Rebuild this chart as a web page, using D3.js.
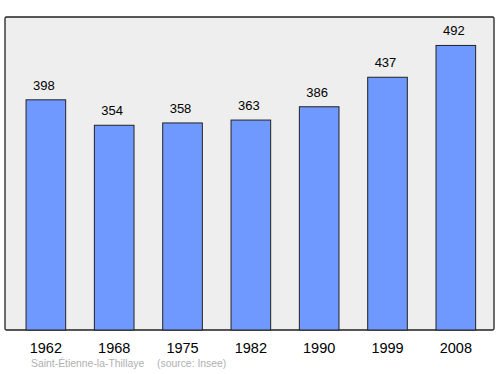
<!DOCTYPE html>
<html>
<head>
<meta charset="utf-8">
<script src="https://cdn.jsdelivr.net/npm/d3@7"></script>
<style>
  body { margin: 0; background: #fff; }
</style>
</head>
<body>
<script>
var years = ["1962", "1968", "1975", "1982", "1990", "1999", "2008"];
var population = [398, 354, 358, 363, 386, 437, 492];
var commune = "Saint-Étienne-la-Thillaye";
var source = "(source: Insee)";

var w = 500, h = 374;
var plotTop = 17, plotBottom = 330, plotLeft = 5, plotRight = 494;

var svg = d3.select("body").append("svg")
    .attr("width", w)
    .attr("height", h)
    .style("font-family", "'Liberation Sans', Arial, sans-serif");

// frame
svg.append("rect")
    .attr("x", plotLeft).attr("y", plotTop)
    .attr("width", plotRight - plotLeft).attr("height", plotBottom - plotTop)
    .attr("rx", 1.5)
    .attr("fill", "#eeeeee")
    .attr("stroke", "#222")
    .attr("stroke-width", 1.3);

var x = d3.scaleBand()
    .domain(years)
    .range([11.7, 490])
    .paddingInner(0.42)
    .paddingOuter(0.21);

var y = d3.scaleLinear()
    .domain([0, d3.max(population) * 1.1])
    .range([plotBottom, plotTop]);

var data = years.map((yr, i) => ({year: yr, value: population[i]}));

svg.selectAll(".bar")
    .data(data)
    .enter().append("rect")
    .attr("class", "bar")
    .attr("x", d => x(d.year))
    .attr("y", d => y(d.value))
    .attr("width", x.bandwidth())
    .attr("height", d => plotBottom - y(d.value))
    .attr("fill", "#7099ff")
    .attr("stroke", "#222")
    .attr("stroke-width", 1);

svg.selectAll(".val")
    .data(data)
    .enter().append("text")
    .attr("class", "val")
    .attr("x", d => x(d.year) + x.bandwidth() / 2 - 2)
    .attr("y", d => y(d.value) - 10)
    .attr("text-anchor", "middle")
    .attr("font-size", "13px")
    .attr("fill", "#000")
    .text(d => d.value);

// year axis labels
var axis = d3.axisBottom(x).tickSize(0).tickPadding(0);
var g = svg.append("g")
    .attr("transform", "translate(0," + 342.5 + ")")
    .call(axis);
g.select(".domain").remove();
g.selectAll("text")
    .attr("dy", "0.71em")
    .attr("font-size", "14.5px")
    .attr("font-family", "'Liberation Sans', Arial, sans-serif")
    .attr("fill", "#000");

svg.append("text")
    .attr("x", 31).attr("y", 367)
    .attr("font-size", "10.4px")
    .attr("fill", "#b0b0b0")
    .text(commune);

svg.append("text")
    .attr("x", 157).attr("y", 367)
    .attr("font-size", "10.4px")
    .attr("fill", "#b0b0b0")
    .text(source);
</script>
</body>
</html>
